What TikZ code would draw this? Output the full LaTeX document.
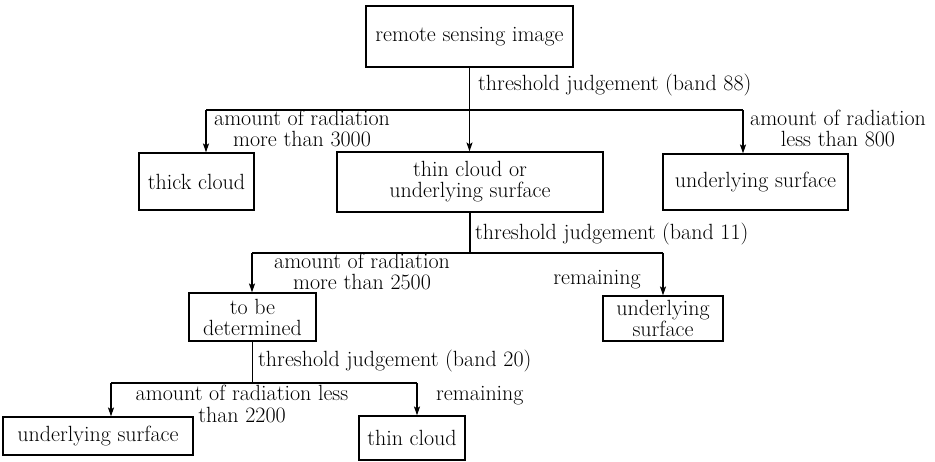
\documentclass[tikz,border=0pt]{standalone}
\usetikzlibrary{arrows.meta}
\begin{document}
\begin{tikzpicture}[x=1pt,y=-1pt,
  every node/.style={font=\fontsize{22}{21}\selectfont},
  box/.style={draw,line width=1.1pt,inner sep=0pt,align=center},
  lbl/.style={inner sep=0pt,align=center,anchor=base},
  lblw/.style={inner sep=0pt,anchor=base west},
  wire/.style={line width=1.1pt},
  arr/.style={line width=1.1pt,-{Stealth[length=9pt,width=6pt,inset=2pt]}}]
\useasboundingbox (0,0) rectangle (935,462);

% decision boxes
\node[box,minimum width=207pt,minimum height=61pt] (rsi) at (469.5,36.5) {remote sensing image};
\node[box,minimum width=115pt,minimum height=57pt] (thick) at (196.5,181.5) {thick cloud};
\node[box,minimum width=266pt,minimum height=60pt] (thin) at (470,182) {thin cloud or\\underlying surface};
\node[box,minimum width=185pt,minimum height=56pt] (under1) at (755.5,182) {underlying surface};
\node[box,minimum width=127pt,minimum height=48pt] (tbd) at (252.5,317) {to be\\determined};
\node[box,minimum width=120pt,minimum height=45pt] (under2) at (663,318.5) {underlying\\surface};
\node[box,minimum width=190pt,minimum height=38pt] (under3) at (98,436) {underlying surface};
\node[box,minimum width=106pt,minimum height=44pt] (tcloud) at (412,438) {thin cloud};

% branching points
\coordinate (b1L) at (206,110);
\coordinate (b1R) at (743,110);
\coordinate (b2L) at (252,253);
\coordinate (b2R) at (663,253);
\coordinate (b3L) at (111,383);
\coordinate (b3R) at (417,383);

% band 88 split
\draw[arr] (rsi.south) -- (rsi.south |- thin.north);
\draw[wire] (b1L) -- (b1R);
\draw[arr] (b1L) -- (b1L |- thick.north);
\draw[arr] (b1R) -- (b1R |- under1.north);

% band 11 split
\draw[wire] (thin.south) -- (thin.south |- b2L);
\draw[wire] (b2L) -- (b2R);
\draw[arr] (b2L) -- (b2L |- tbd.north);
\draw[arr] (b2R) -- (b2R |- under2.north);

% band 20 split
\draw[wire] (tbd.south) -- (tbd.south |- b3L);
\draw[wire] (b3L) -- (b3R);
\draw[arr] (b3L) -- (b3L |- under3.north);
\draw[arr] (b3R) -- (b3R |- tcloud.north);

% branch labels (base anchor sits on the last line)
\node[lblw] (t88) at (478,91) {threshold judgement (band 88)};
\node[lbl] (r3000) at (302,147) {amount of radiation\\more than 3000};
\node[lbl] (r800) at (838,147) {amount of radiation\\less than 800};
\node[lblw] (t11) at (475,240) {threshold judgement (band 11)};
\node[lbl] (r2500) at (362,290) {amount of radiation\\more than 2500};
\node[lbl] (rem1) at (597,285) {remaining};
\node[lblw] (t20) at (258,367) {threshold judgement (band 20)};
\node[lbl] (r2200) at (242,422) {amount of radiation less\\than 2200};
\node[lblw] (rem2) at (436,401) {remaining};
\end{tikzpicture}
\end{document}
